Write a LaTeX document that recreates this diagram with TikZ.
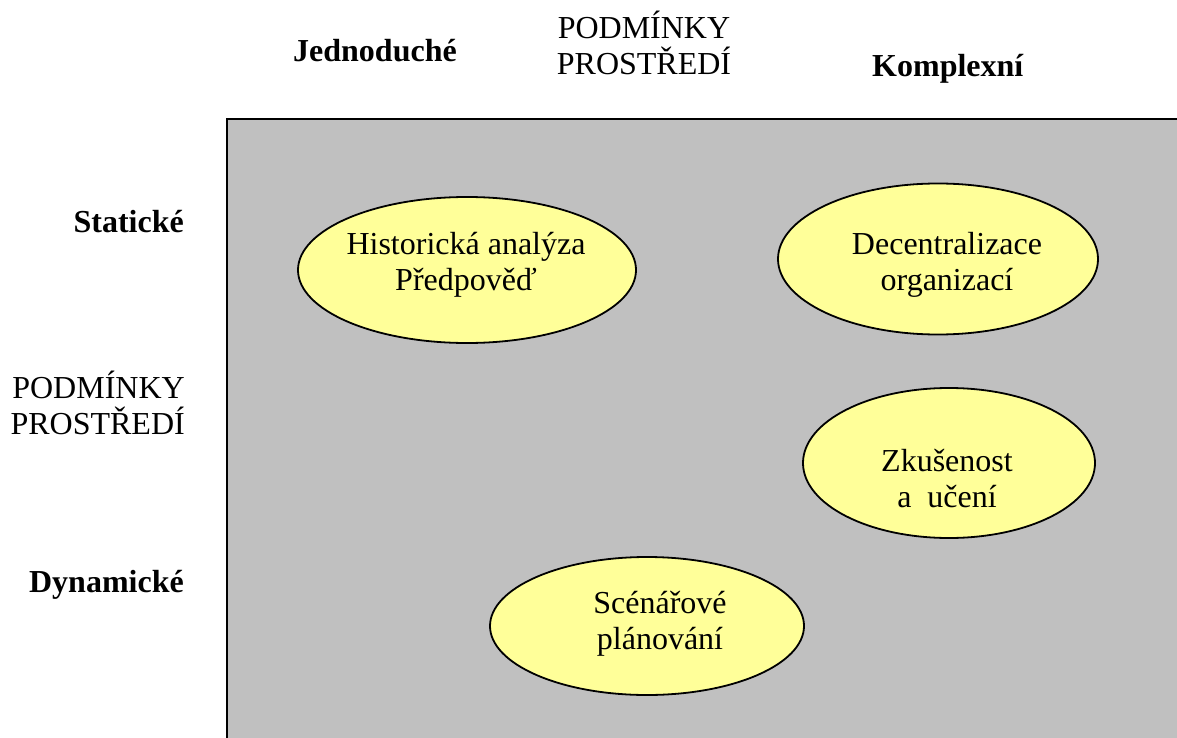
\documentclass[tikz,border=0pt]{standalone}
\usepackage{fontspec}
\setmainfont{Liberation Serif}
\usetikzlibrary{shapes.geometric}
\definecolor{fieldGray}{RGB}{192, 192, 192}
\definecolor{blobYellow}{RGB}{255, 255, 153}

\begin{document}
\begin{tikzpicture}[x=1pt, y=-1pt,
      blob/.style={ellipse, draw, line width=1.8pt, fill=blobYellow, inner sep=0pt},
      txt/.style={align=center, font=\fontsize{32}{36}\selectfont, inner sep=0pt},
      hdr/.style={font=\fontsize{32}{36}\selectfont\bfseries, inner sep=0pt}
    ]
      \clip (0,0) rectangle (1177,738);
      \fill[white] (0,0) rectangle (1177,738);
      % field
      \draw[line width=2pt, fill=fieldGray] (227,119) rectangle (1190,750);
      % ellipses
      \node[blob, minimum width=338pt, minimum height=146pt] (hist) at (467,270) {};
      \node[blob, minimum width=320pt, minimum height=151pt] (decent) at (938,259) {};
      \node[blob, minimum width=292pt, minimum height=150pt] (zkus) at (949,463) {};
      \node[blob, minimum width=314pt, minimum height=138pt] (scen) at (647,626) {};
      \node[txt] (histT) at (466,265) {Historická analýza\\Předpověď};
      \node[txt] (decentT) at (947,265) {Decentralizace\\organizací};
      \node[txt] (zkusT) at (947,479) {Zkušenost\\a~~učení};
      \node[txt] (scenT) at (660,624) {Scénářové\\plánování};
      % headers
      \node[hdr, anchor=base west] (simple) at (293,62) {Jednoduché};
      \node[hdr, anchor=base west] (complex) at (872,77) {Komplexní};
      \node[txt] (topEnv) at (644,43) {PODMÍNKY\\PROSTŘEDÍ};
      \node[hdr, anchor=base east] (static) at (184,232) {Statické};
      \node[hdr, anchor=base east] (dynamic) at (184,592) {Dynamické};
      \node[txt, align=right, anchor=east] (leftEnv) at (185,403) {PODMÍNKY\\PROSTŘEDÍ};
    \end{tikzpicture}
\end{document}
